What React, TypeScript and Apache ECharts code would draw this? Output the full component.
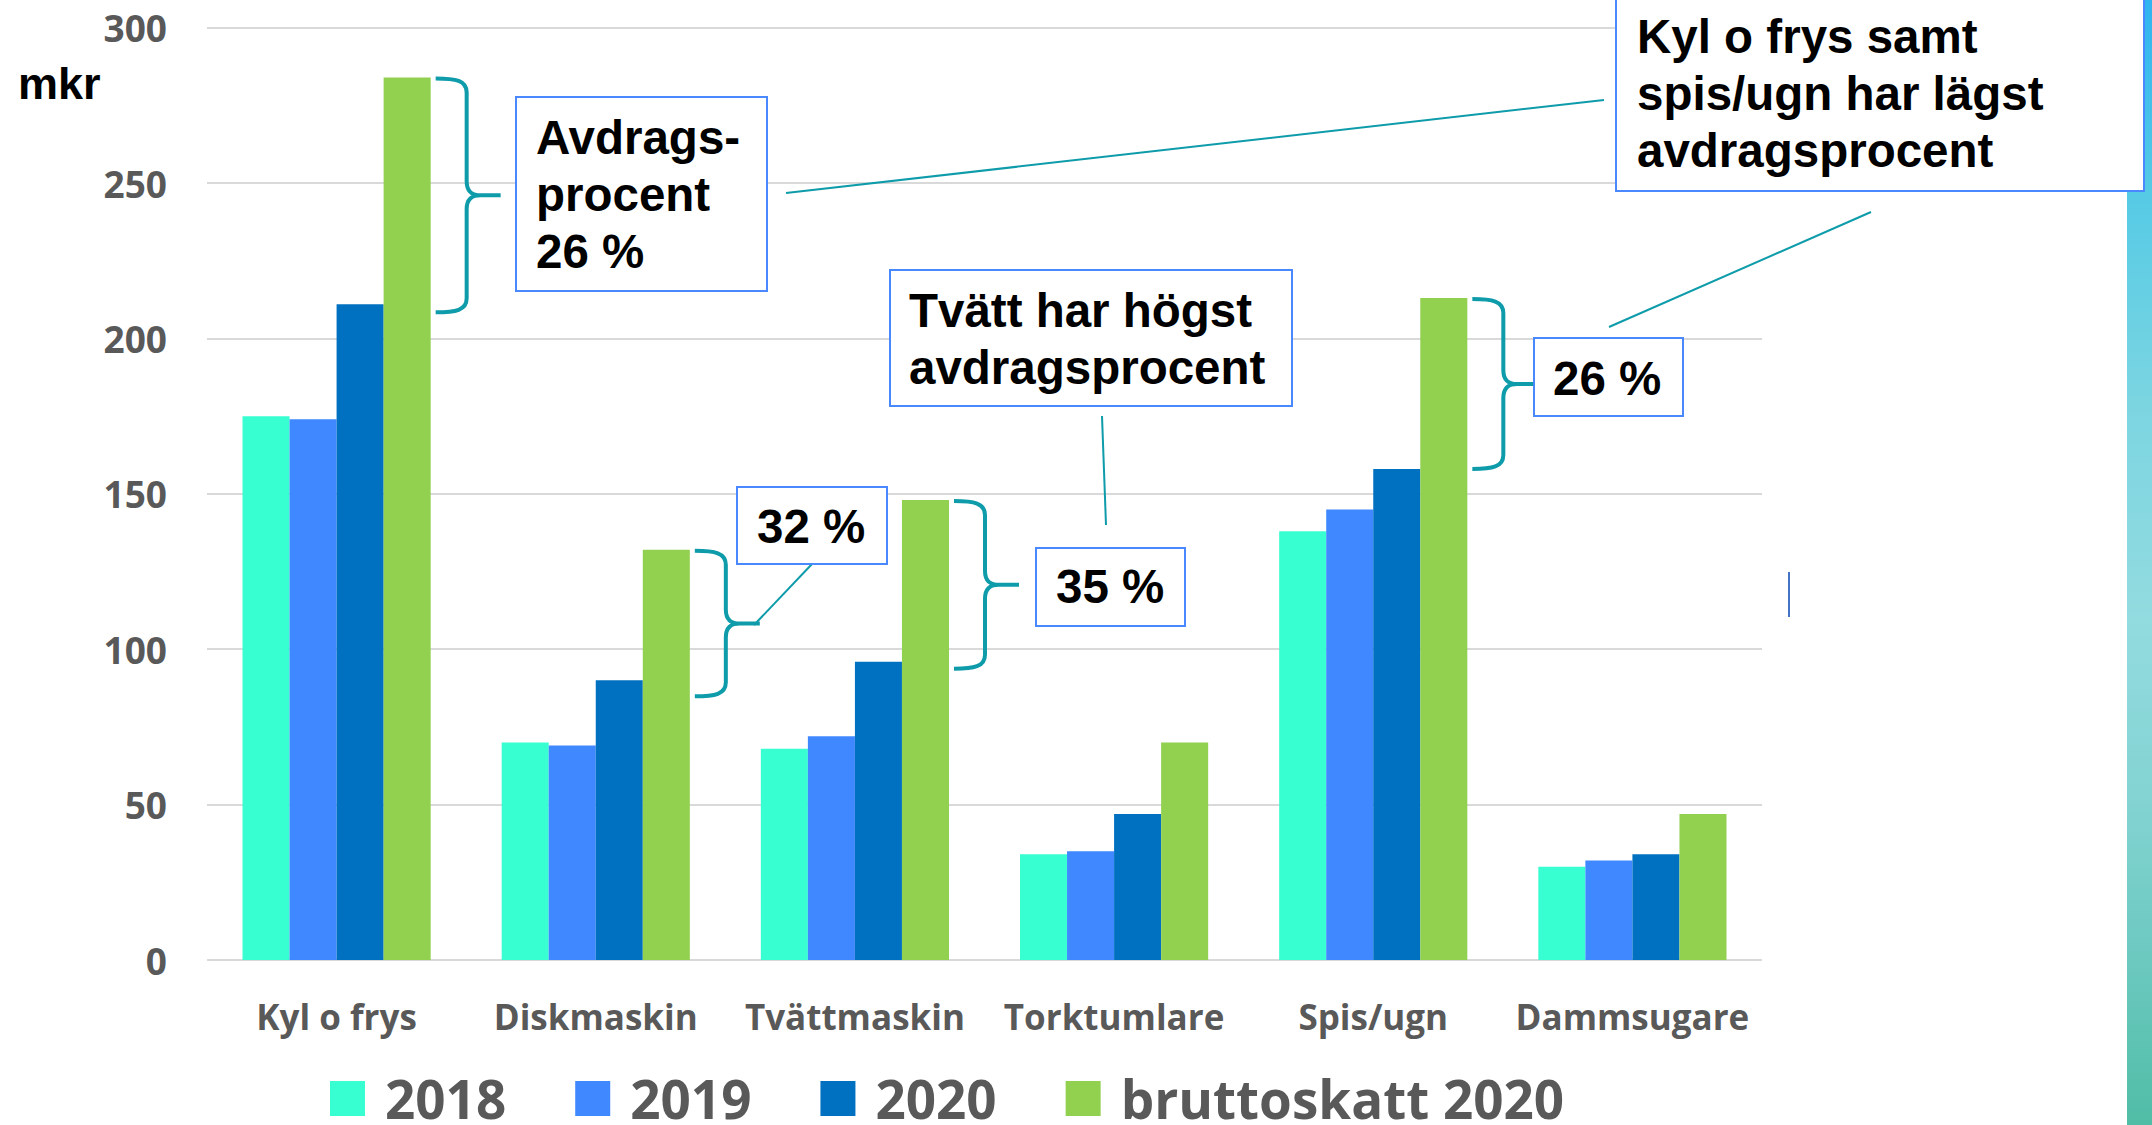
import React, { useEffect, useRef } from "react";
import * as echarts from "echarts";

const categories = ["Kyl o frys", "Diskmaskin", "Tvättmaskin", "Torktumlare", "Spis/ugn", "Dammsugare"];
const seriesNames = ["2018", "2019", "2020", "bruttoskatt 2020"];
const values2018 = [175, 70, 68, 34, 138, 30];
const values2019 = [174, 69, 72, 35, 145, 32];
const values2020 = [211, 90, 96, 47, 158, 34];
const valuesBrutto = [284, 132, 148, 70, 213, 47];
const seriesColors = ["#38FFD1", "#3F88FF", "#0070C0", "#92D050"];
const yMin = 0;
const yMax = 300;
const yInterval = 50;

// braces: category index and extra px below the 2020 bar top
const braceCats = [0, 1, 2, 4];
const braceBottomOffset = [8, 16, 7, 0];

const TEAL = "#0E9BAA";
const BOX_BLUE = "#4A88FF";
const ANN_SIZE = 47.5;
const ANN_FONT = `bold ${ANN_SIZE}px "Liberation Sans", Arial, sans-serif`;

export default function App() {
  const ref = useRef<HTMLDivElement>(null);

  useEffect(() => {
    if (!ref.current) return;
    const chart = echarts.init(ref.current, undefined, { renderer: "svg" });
    const allSeries = [values2018, values2019, values2020, valuesBrutto];
    const gapPct = 27.4;
    chart.setOption({
      animation: false,
      backgroundColor: "#ffffff",
      grid: { left: 207, top: 27.7, width: 1555, bottom: 165, containLabel: false },
      legend: {
        left: 330,
        top: 1072,
        padding: 0,
        itemWidth: 35,
        itemHeight: 35,
        itemGap: 69,
        icon: "rect",
        data: seriesNames,
        textStyle: {
          fontFamily: '"Open Sans", sans-serif',
          fontWeight: "bold",
          fontSize: 53,
          lineHeight: 48,
          color: "#595959",
          padding: [0, 0, 0, 15],
        },
      },
      xAxis: {
        type: "category",
        data: categories,
        axisLine: { show: false },
        axisTick: { show: false },
        axisLabel: {
          margin: 39,
          fontFamily: '"Open Sans", sans-serif',
          fontWeight: "bold",
          fontSize: 35,
          lineHeight: 35,
          color: "#595959",
          interval: 0,
        },
      },
      yAxis: {
        type: "value",
        min: yMin,
        max: yMax,
        interval: yInterval,
        axisLine: { show: false },
        axisTick: { show: false },
        splitLine: { lineStyle: { color: "#D9D9D9", width: 2 } },
        axisLabel: {
          margin: 40,
          fontFamily: '"Open Sans", sans-serif',
          fontWeight: "bold",
          fontSize: 37,
          color: "#595959",
        },
      },
      series: seriesNames.map((name, i) => ({
        name,
        type: "bar",
        data: allSeries[i],
        barGap: "0%",
        barCategoryGap: gapPct + "%",
        itemStyle: { color: seriesColors[i] },
      })),
    });

    // annotations positioned from the chart's own scales
    const xPx = (c: string) => chart.convertToPixel({ xAxisIndex: 0 }, c) as number;
    const yPx = (v: number) => chart.convertToPixel({ yAxisIndex: 0 }, v) as number;
    const band = xPx(categories[1]) - xPx(categories[0]);
    const groupW = band * (1 - gapPct / 100);

    const graphics: any[] = [];
    // right gradient strip
    graphics.push({
      type: "rect",
      shape: { x: 2127, y: 0, width: 25, height: 1125 },
      style: {
        fill: {
          type: "linear", x: 0, y: 0, x2: 0, y2: 1,
          colorStops: [
            { offset: 0, color: "#30B4F0" },
            { offset: 0.17, color: "#55CAE5" },
            { offset: 0.36, color: "#7BD5E1" },
            { offset: 0.55, color: "#92DBDF" },
            { offset: 0.7, color: "#84D4D3" },
            { offset: 0.85, color: "#6CC9C0" },
            { offset: 1, color: "#50BDA6" },
          ],
        },
      },
      z: 1,
    });

    braceCats.forEach((ci, k) => {
      const cx = xPx(categories[ci]);
      const x0 = cx + groupW / 2 + 5;
      const yTop = yPx(valuesBrutto[ci]) + 1;
      const yBot = yPx(values2020[ci]) + braceBottomOffset[k];
      const yMid = (yTop + yBot) / 2;
      const xs = x0 + 31;
      const xp = xs + 34;
      const r = 14;
      const d =
        `M${x0},${yTop} C${x0 + 20},${yTop} ${xs},${yTop + 2} ${xs},${yTop + r} ` +
        `L${xs},${yMid - r} C${xs},${yMid - 3} ${xs + 6},${yMid} ${xs + 14},${yMid} L${xp},${yMid} ` +
        `M${xs + 14},${yMid} C${xs + 6},${yMid} ${xs},${yMid + 3} ${xs},${yMid + r} ` +
        `L${xs},${yBot - r} C${xs},${yBot - 2} ${x0 + 20},${yBot} ${x0},${yBot}`;
      const name = "brace" + k;
      echarts.graphic.registerShape(name, echarts.graphic.extendPath(d, {}));
      graphics.push({
        type: name,
        x: 0,
        y: 0,
        style: { stroke: TEAL, lineWidth: 4, fill: "none" },
        z: 10,
      });
    });

    const line = (x1: number, y1: number, x2: number, y2: number, color = TEAL, w = 2) => ({
      type: "line",
      shape: { x1, y1, x2, y2 },
      style: { stroke: color, lineWidth: w },
      z: 10,
    });
    graphics.push(line(786, 193, 1604, 100));
    graphics.push(line(1871, 212, 1609, 327));
    graphics.push(line(1102, 416, 1106, 525));
    graphics.push(line(812, 564, 754, 625));
    graphics.push(line(1789, 572, 1789, 617, "#4472C4", 2));

    const box = (x: number, y: number, w: number, h: number, text: string, firstBaseline: number, tx: number) => {
      graphics.push({
        type: "rect",
        shape: { x, y, width: w, height: h },
        style: { fill: "#ffffff", stroke: BOX_BLUE, lineWidth: 2 },
        z: 20,
      });
      graphics.push({
        type: "text",
        x: tx,
        y: firstBaseline - 0.3465 * ANN_SIZE - 28.5,
        style: {
          text,
          font: ANN_FONT,
          fill: "#000000",
          lineHeight: 57,
          textAlign: "left",
          textVerticalAlign: "top",
          verticalAlign: "top",
        },
        z: 21,
      });
    };
    box(516, 97, 251, 194, "Avdrags-\nprocent\n26 %", 154, 536);
    box(1616, -5, 528, 196, "Kyl o frys samt\nspis/ugn har lägst\navdragsprocent", 53, 1637);
    box(890, 270, 402, 136, "Tvätt har högst\navdragsprocent", 327, 909);
    box(737, 487, 150, 77, "32 %", 543, 757);
    box(1036, 548, 149, 78, "35 %", 603, 1056);
    box(1534, 338, 149, 78, "26 %", 395, 1553);

    graphics.push({
      type: "text",
      x: 18,
      y: 99 - 0.3465 * 45 - 22.5,
      style: {
        text: "mkr",
        font: 'bold 45px "Liberation Sans", Arial, sans-serif',
        fill: "#000000",
        lineHeight: 45,
        textAlign: "left",
        textVerticalAlign: "top",
        verticalAlign: "top",
      },
      z: 10,
    });

    chart.setOption({ graphic: graphics });

    return () => chart.dispose();
  }, []);

  return (
    <div
      ref={ref}
      style={{ position: "absolute", left: 0, top: 0, width: 2152, height: 1125, background: "#fff" }}
    />
  );
}
